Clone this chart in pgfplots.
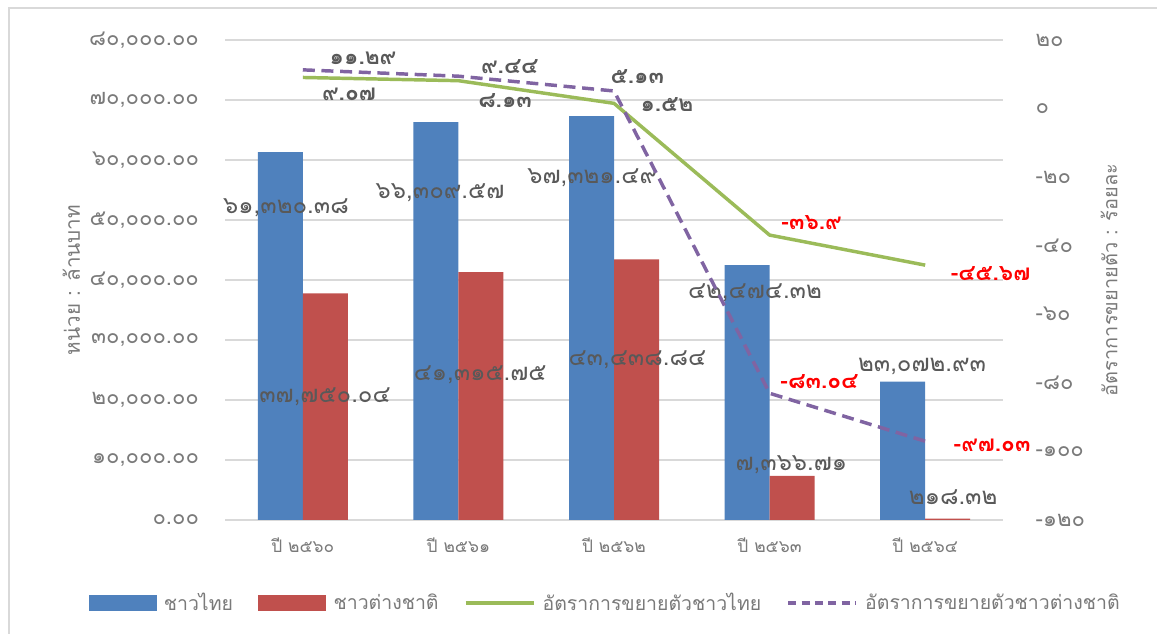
\documentclass[border=0pt]{standalone}
\usepackage{pgfplots}
\pgfplotsset{compat=1.18}
\usepackage{fontspec}
\setmainfont[Script=Thai]{Loma}
\definecolor{cblue}{HTML}{4F81BD}
\definecolor{cred}{HTML}{C0504D}
\definecolor{cgreen}{HTML}{9BBB59}
\definecolor{cpurple}{HTML}{8064A2}
\definecolor{txt}{HTML}{595959}
\definecolor{ticktxt}{HTML}{7A7A7A}
\definecolor{gridc}{HTML}{D9D9D9}
\begin{document}
\begin{tikzpicture}
\path[use as bounding box] (0,0) rectangle (867.75pt,475.5pt);
\draw[gridc, line width=1.5pt] (6.75pt,0) -- (6.75pt,469.5pt) -- (867.75pt,469.5pt);

% bars, left axis
\begin{axis}[
  at={(168.75pt,85.5pt)}, anchor=south west,
  scale only axis, width=583.5pt, height=360pt,
  xmin=-0.5, xmax=4.5, ymin=0, ymax=80000,
  scaled y ticks=false,
  ybar=0pt, bar width=33.75pt,
  axis line style={draw=none},
  major tick length=0pt,
  ymajorgrids, grid style={gridc, line width=1.2pt},
  ytick={0,10000,20000,30000,40000,50000,60000,70000,80000},
  yticklabels={{๐.๐๐},{๑๐,๐๐๐.๐๐},{๒๐,๐๐๐.๐๐},{๓๐,๐๐๐.๐๐},{๔๐,๐๐๐.๐๐},{๕๐,๐๐๐.๐๐},{๖๐,๐๐๐.๐๐},{๗๐,๐๐๐.๐๐},{๘๐,๐๐๐.๐๐}},
  yticklabel style={font=\fontsize{16.5}{18}\selectfont, text=ticktxt, xshift=-16pt},
  xtick={0,1,2,3,4},
  xticklabels={ปี ๒๕๖๐,ปี ๒๕๖๑,ปี ๒๕๖๒,ปี ๒๕๖๓,ปี ๒๕๖๔},
  xticklabel style={font=\fontsize{13}{15}\selectfont, text=ticktxt, yshift=-10pt},
  ylabel={หน่วย : ล้านบาท},
  ylabel style={font=\fontsize{15.5}{17}\selectfont, text=ticktxt},
  clip=false,
  legend columns=4,
  legend style={draw=none, at={(0.489,-0.173)}, anchor=center,
    font=\fontsize{14.6}{16.5}\selectfont, text=ticktxt,
    /tikz/every even column/.append style={column sep=17pt},
    /tikz/every odd column/.append style={column sep=3.5pt}},
]
\addplot[fill=cblue, draw=none,
  legend image code/.code={\fill[cblue] (0pt,-6pt) rectangle (51pt,6pt);}]
  coordinates {(0,61320.38) (1,66309.57) (2,67321.49) (3,42474.32) (4,23072.93)};
\addlegendentry{ชาวไทย}
\addplot[fill=cred, draw=none,
  legend image code/.code={\fill[cred] (0pt,-6pt) rectangle (51pt,6pt);}]
  coordinates {(0,37750.04) (1,41315.75) (2,43438.84) (3,7366.71) (4,218.32)};
\addlegendentry{ชาวต่างชาติ}
\addlegendimage{legend image code/.code={\draw[cgreen, line width=2.5pt] (0pt,0pt) -- (51pt,0pt);}}
\addlegendentry{อัตราการขยายตัวชาวไทย}
\addlegendimage{legend image code/.code={\draw[cpurple, line width=2.5pt, dash pattern=on 6pt off 4pt] (0pt,0pt) -- (51pt,0pt);}}
\addlegendentry{อัตราการขยายตัวชาวต่างชาติ}

\begin{scope}[every node/.style={font=\fontsize{18}{20}\selectfont, text=txt}]
\node at (axis cs:-0.108,52000) {๖๑,๓๒๐.๓๘};
\node at (axis cs:0.882,54500) {๖๖,๓๐๙.๕๗};
\node at (axis cs:1.86,57000) {๖๗,๓๒๑.๔๙};
\node at (axis cs:2.906,37800) {๔๒,๔๗๔.๓๒};
\node at (axis cs:3.98,25500) {๒๓,๐๗๒.๙๓};
\node at (axis cs:0.143,20500) {๓๗,๗๕๐.๐๔};
\node at (axis cs:1.14,24200) {๔๑,๓๑๕.๗๕};
\node at (axis cs:2.15,26700) {๔๓,๔๓๘.๘๔};
\node at (axis cs:3.14,9200) {๗,๓๖๖.๗๑};
\node at (axis cs:4.18,3800) {๒๑๘.๓๒};
\end{scope}
\end{axis}

% growth rates, right axis
\begin{axis}[
  at={(168.75pt,85.5pt)}, anchor=south west,
  scale only axis, width=583.5pt, height=360pt,
  xmin=-0.5, xmax=4.5, ymin=-120, ymax=20,
  axis x line=none, axis y line*=right,
  axis line style={draw=none},
  major tick length=0pt,
  ytick={-120,-100,-80,-60,-40,-20,0,20},
  yticklabels={-๑๒๐,-๑๐๐,-๘๐,-๖๐,-๔๐,-๒๐,๐,๒๐},
  yticklabel style={font=\fontsize{16.5}{18}\selectfont, text=ticktxt, anchor=west, xshift=21pt},
  ylabel={อัตราการขยายตัว : ร้อยละ},
  ylabel style={font=\fontsize{15}{17}\selectfont, text=ticktxt, yshift=-5pt},
  clip=false,
]
\addplot[cgreen, line width=2.6pt, mark=none]
  coordinates {(0,9.07) (1,8.13) (2,1.52) (3,-36.9) (4,-45.67)};
\addplot[cpurple, line width=2.6pt, mark=none, dash pattern=on 9pt off 5pt]
  coordinates {(0,11.29) (1,9.44) (2,5.13) (3,-83.04) (4,-97.03)};

\begin{scope}[every node/.style={font=\fontsize{17}{19}\selectfont\bfseries, text=txt}]
\node at (axis cs:0.387,14.7) {๑๑.๒๙};
\node at (axis cs:0.297,4.2) {๙.๐๗};
\node at (axis cs:1.33,12.1) {๙.๔๔};
\node at (axis cs:1.30,2.4) {๘.๑๓};
\node at (axis cs:2.15,9.2) {๕.๑๓};
\node at (axis cs:2.34,1.25) {๑.๕๒};
\end{scope}
\begin{scope}[every node/.style={font=\fontsize{17}{19}\selectfont\bfseries, text=red}]
\node at (axis cs:3.27,-33.3) {-๓๖.๙};
\node at (axis cs:4.42,-48.0) {-๔๕.๖๗};
\node at (axis cs:3.32,-79.6) {-๘๓.๐๔};
\node at (axis cs:4.43,-98.3) {-๙๗.๐๓};
\end{scope}
\end{axis}
\end{tikzpicture}
\end{document}
